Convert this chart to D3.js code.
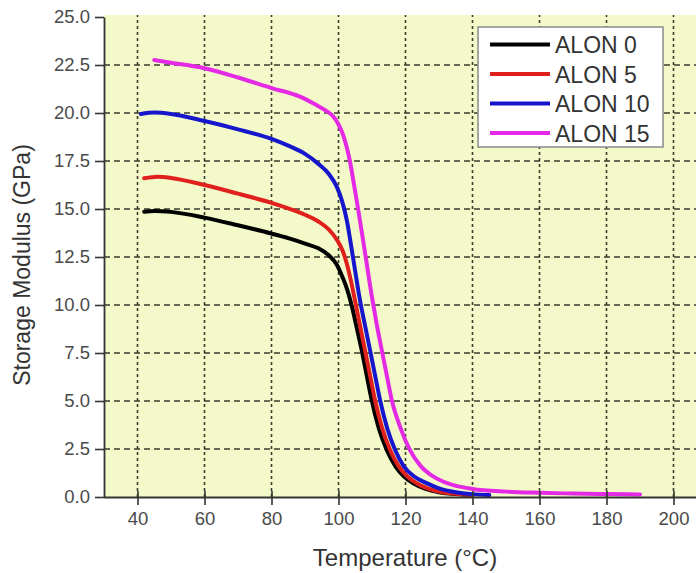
<!DOCTYPE html>
<html>
<head>
<meta charset="utf-8">
<script src="https://cdn.jsdelivr.net/npm/d3@7"></script>
<style>
  html, body { margin: 0; padding: 0; background: #fff; }
  svg { display: block; font-family: "Liberation Sans", Arial, sans-serif; }
</style>
</head>
<body>
<svg id="chart" width="696" height="573"></svg>
<script>
// ---- Data ----
const seriesNames = ["ALON 0", "ALON 5", "ALON 10", "ALON 15"];
const seriesColors = ["#000000", "#e0201c", "#1616cc", "#e52ae6"];

const tempAlon0 = [42, 45, 50, 60, 70, 80, 85, 90, 94, 97, 99.5, 101.2, 102.6, 103.9, 105.4, 106.9, 108.4, 109.9, 112, 114.4, 117, 119.5, 122.2, 126, 130, 135, 140];
const modAlon0  = [14.86, 14.9, 14.85, 14.55, 14.15, 13.72, 13.48, 13.2, 12.95, 12.6, 12.1, 11.45, 10.8, 10.0, 8.85, 7.66, 6.35, 5.05, 3.6, 2.45, 1.6, 1.08, 0.72, 0.42, 0.25, 0.15, 0.1];

const tempAlon5 = [42, 46, 50, 60, 70, 80, 85, 90, 94, 97, 99.5, 101.3, 102.4, 103.6, 104.9, 106.4, 107.9, 109.4, 110.9, 113, 115.4, 118, 120.5, 123.3, 127, 131, 136, 140];
const modAlon5  = [16.6, 16.68, 16.62, 16.25, 15.8, 15.32, 15.03, 14.7, 14.35, 13.95, 13.4, 12.8, 12.2, 11.35, 10.26, 8.95, 7.66, 6.35, 5.05, 3.6, 2.45, 1.6, 1.08, 0.72, 0.42, 0.25, 0.15, 0.1];

const tempAlon10 = [41, 45, 50, 60, 70, 80, 85, 90, 94, 97, 99.5, 101, 102.5, 103.9, 104.9, 106.4, 107.9, 109.4, 110.9, 112.4, 114.5, 116.9, 119.5, 122.5, 126.3, 130, 135, 140, 145];
const modAlon10  = [19.95, 20.02, 19.95, 19.58, 19.15, 18.65, 18.3, 17.87, 17.35, 16.85, 16.15, 15.45, 14.4, 12.95, 11.85, 10.26, 8.95, 7.66, 6.35, 5.05, 3.6, 2.45, 1.6, 1.08, 0.72, 0.45, 0.25, 0.15, 0.1];

const tempAlon15 = [45, 50, 60, 70, 80, 88.5, 93, 96, 98.5, 100, 101.4, 102.4, 103.4, 104.5, 105.9, 107.9, 109.9, 111.4, 112.9, 114.4, 115.9, 118.5, 121.3, 124.5, 128, 131, 134.3, 140, 150, 160, 170, 180, 190];
const modAlon15  = [22.76, 22.62, 22.33, 21.85, 21.3, 20.85, 20.45, 20.15, 19.8, 19.4, 18.85, 18.25, 17.5, 16.4, 14.95, 12.75, 10.5, 9.0, 7.66, 6.35, 5.05, 3.6, 2.45, 1.62, 1.1, 0.82, 0.62, 0.42, 0.28, 0.22, 0.18, 0.15, 0.13];

const xTicks = [40, 60, 80, 100, 120, 140, 160, 180, 200];
const yTicks = [0, 2.5, 5, 7.5, 10, 12.5, 15, 17.5, 20, 22.5, 25];
const xTitle = "Temperature (°C)";
const yTitle = "Storage Modulus (GPa)";

const temps = [tempAlon0, tempAlon5, tempAlon10, tempAlon15];
const mods = [modAlon0, modAlon5, modAlon10, modAlon15];
const series = seriesNames.map((name, i) => ({
  name, color: seriesColors[i],
  points: temps[i].map((t, j) => ({ t, v: mods[i][j] }))
}));

// ---- Layout ----
const svg = d3.select("#chart");
const W = 696;
const plotLeft = 104, plotBottom = 497, plotTop = 17;
const x = d3.scaleLinear().domain([30, 210]).range([plotLeft, plotLeft + 180 * 3.35]);
const y = d3.scaleLinear().domain([0, 25]).range([plotBottom, plotTop]);

svg.append("defs").append("clipPath").attr("id", "plotclip")
  .append("rect").attr("x", plotLeft).attr("y", plotTop - 3).attr("width", W - plotLeft).attr("height", plotBottom - plotTop + 3);

// Background
svg.append("rect").attr("x", plotLeft).attr("y", plotTop - 2).attr("width", W - plotLeft).attr("height", plotBottom - plotTop + 2)
  .attr("fill", "#f4f9c9");

// Grid
const grid = svg.append("g").attr("clip-path", "url(#plotclip)");
grid.selectAll(".vg").data(xTicks).join("line")
  .attr("x1", d => x(d)).attr("x2", d => x(d))
  .attr("y1", plotBottom).attr("y2", plotTop - 2)
  .attr("stroke", "#3b3b2e").attr("stroke-width", 1.6).attr("stroke-dasharray", "3,3");
grid.selectAll(".hg").data(yTicks.filter(d => d > 0 && d < 25)).join("line")
  .attr("x1", plotLeft).attr("x2", W)
  .attr("y1", d => y(d)).attr("y2", d => y(d))
  .attr("stroke", "#3b3b2e").attr("stroke-width", 1.6).attr("stroke-dasharray", "6,4");

// Curves
const line = d3.line().x(d => x(d.t)).y(d => y(d.v)).curve(d3.curveMonotoneX);
const curves = svg.append("g").attr("clip-path", "url(#plotclip)");
curves.selectAll("path").data(series).join("path")
  .attr("d", d => line(d.points))
  .attr("fill", "none")
  .attr("stroke", d => d.color)
  .attr("stroke-width", 4)
  .attr("stroke-linejoin", "round")
  .attr("stroke-linecap", "round");

// Axes
const xAxis = d3.axisBottom(x).tickValues(xTicks).tickSizeInner(8).tickSizeOuter(0).tickPadding(7);
const gx = svg.append("g").attr("transform", `translate(0,${plotBottom})`).call(xAxis);
gx.select(".domain").attr("d", `M${plotLeft},0.5H${W}`).attr("stroke", "#333").attr("stroke-width", 1.8);
gx.selectAll(".tick line").attr("y1", -6).attr("stroke", "#333").attr("stroke-width", 1.6);
gx.selectAll(".tick text").attr("font-size", 18.5).attr("fill", "#4a4a4a")
  .attr("font-family", "Liberation Sans, Arial, sans-serif");

const yAxis = d3.axisLeft(y).tickValues(yTicks).tickFormat(d3.format(".1f"))
  .tickSizeInner(9).tickSizeOuter(0).tickPadding(5);
const gy = svg.append("g").attr("transform", `translate(${plotLeft},0)`).call(yAxis);
gy.select(".domain").attr("stroke", "#333").attr("stroke-width", 1.8);
gy.selectAll(".tick line").attr("stroke", "#333").attr("stroke-width", 1.6);
gy.selectAll(".tick text").attr("font-size", 18.5).attr("fill", "#4a4a4a")
  .attr("font-family", "Liberation Sans, Arial, sans-serif");

// Axis titles
svg.append("text").attr("x", 405).attr("y", 566).attr("text-anchor", "middle")
  .attr("font-size", 24).attr("fill", "#333").text(xTitle);
svg.append("text").attr("transform", "translate(30,265) rotate(-90)").attr("text-anchor", "middle")
  .attr("font-size", 23).attr("fill", "#333").text(yTitle);

// Legend
const lg = svg.append("g");
lg.append("rect").attr("x", 478).attr("y", 27).attr("width", 185).attr("height", 120)
  .attr("fill", "#fff").attr("stroke", "#8a8a8a").attr("stroke-width", 1.5);
const rowY = d3.scaleLinear().domain([0, 3]).range([44.5, 133]);
const rows = lg.selectAll(".row").data(series).join("g")
  .attr("transform", (d, i) => `translate(0,${rowY(i)})`);
rows.append("line").attr("x1", 490).attr("x2", 550).attr("y1", 0).attr("y2", 0)
  .attr("stroke", d => d.color).attr("stroke-width", 4);
rows.append("text").attr("x", 555).attr("y", 8.5).attr("font-size", 23).attr("fill", "#333")
  .text(d => d.name);
</script>
</body>
</html>
